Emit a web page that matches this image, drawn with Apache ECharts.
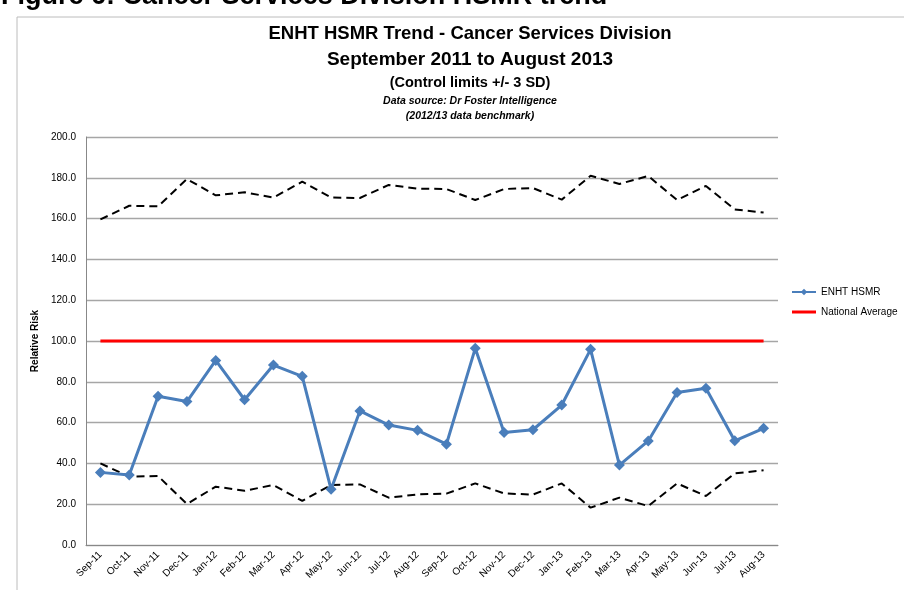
<!DOCTYPE html>
<html>
<head>
<meta charset="utf-8">
<script src="https://cdn.jsdelivr.net/npm/echarts@6/dist/echarts.min.js"></script>
<style>
  html, body { margin: 0; padding: 0; background: #fff; overflow: hidden; }
  #chart { width: 904px; height: 590px; }
</style>
</head>
<body>
<div id="chart"></div>
<script>
// months Sep-11 .. Aug-13
const months = ["Sep-11", "Oct-11", "Nov-11", "Dec-11", "Jan-12", "Feb-12", "Mar-12", "Apr-12",
  "May-12", "Jun-12", "Jul-12", "Aug-12", "Sep-12", "Oct-12", "Nov-12", "Dec-12",
  "Jan-13", "Feb-13", "Mar-13", "Apr-13", "May-13", "Jun-13", "Jul-13", "Aug-13"];

const hsmr = [35.6, 34.3, 72.9, 70.3, 90.5, 71.2, 88.2, 82.7, 27.3, 65.7, 58.8, 56.2,
  49.4, 96.4, 55.2, 56.5, 68.6, 95.9, 39.2, 51.0, 74.8, 76.8, 51.1, 57.2];

const upperLimit = [159.6, 166.3, 166.0, 179.4, 171.4, 172.9, 170.3, 178.1, 170.3, 170.1, 176.5, 174.7,
  174.5, 169.1, 174.5, 175.0, 169.3, 181.0, 177.0, 180.9, 169.1, 176.0, 164.5, 163.0];

const lowerLimit = [40.0, 33.5, 33.8, 20.1, 28.6, 26.6, 29.4, 21.6, 29.4, 29.7, 23.2, 24.8,
  25.2, 30.2, 25.3, 24.7, 30.2, 18.3, 23.2, 19.1, 30.2, 24.0, 35.1, 36.6];

const nationalAverage = months.map(() => 100);

const yTicks = { min: 0, max: 200, step: 20 };

const font = "'Liberation Sans', Arial, sans-serif";

const chart = echarts.init(document.getElementById("chart"), null, { renderer: "canvas" });

const dashed = {
  type: "line",
  symbol: "none",
  silent: true,
  lineStyle: { color: "#000", width: 2, type: [8, 5] },
  z: 2
};

const option = {
  backgroundColor: "#fff",
  animation: false,
  textStyle: { fontFamily: font },
  graphic: [
    {
      type: "rect",
      shape: { x: 17, y: 17, width: 900, height: 600 },
      style: { fill: "none", stroke: "#bcbcbc", lineWidth: 1 },
      z: -1
    },
    {
      type: "text",
      left: 1,
      top: -17,
      style: { text: "Figure 6: Cancer Services Division HSMR trend", font: "bold 27px " + font, fill: "#000" }
    }
  ],
  title: [
    { text: "ENHT HSMR Trend - Cancer Services Division", left: 465, top: 19, textAlign: "center",
      textStyle: { fontSize: 18.5, fontWeight: "bold", color: "#000", fontFamily: font } },
    { text: "September 2011 to August 2013", left: 465, top: 45, textAlign: "center",
      textStyle: { fontSize: 19, fontWeight: "bold", color: "#000", fontFamily: font } },
    { text: "(Control limits +/- 3 SD)", left: 465, top: 70, textAlign: "center",
      textStyle: { fontSize: 14.5, fontWeight: "bold", color: "#000", fontFamily: font } },
    { text: "Data source: Dr Foster Intelligence", left: 465, top: 91, textAlign: "center",
      textStyle: { fontSize: 10.5, fontWeight: "bold", fontStyle: "italic", color: "#000", fontFamily: font } },
    { text: "(2012/13 data benchmark)", left: 465, top: 106, textAlign: "center",
      textStyle: { fontSize: 10.5, fontWeight: "bold", fontStyle: "italic", color: "#000", fontFamily: font } }
  ],
  legend: {
    orient: "vertical",
    left: 786,
    top: 282,
    itemWidth: 24,
    itemHeight: 8,
    itemGap: 10,
    textStyle: { fontSize: 10, color: "#000", fontFamily: font },
    data: [
      { name: "ENHT HSMR" },
      { name: "National Average", icon: "path://M0,0H24V3H0Z" }
    ]
  },
  grid: { left: 86, right: 126, top: 137, bottom: 45, containLabel: false },
  xAxis: {
    type: "category",
    data: months,
    boundaryGap: true,
    axisLine: { lineStyle: { color: "#888", width: 1 } },
    axisTick: { show: false },
    axisLabel: { rotate: 45, interval: 0, fontSize: 10, color: "#000", margin: 8, fontFamily: font }
  },
  yAxis: {
    type: "value",
    name: "Relative Risk",
    nameLocation: "middle",
    nameGap: 39,
    nameRotate: 90,
    nameTextStyle: { fontSize: 10, fontWeight: "bold", color: "#000", fontFamily: font },
    min: yTicks.min,
    max: yTicks.max,
    interval: yTicks.step,
    axisLine: { show: true, lineStyle: { color: "#888", width: 1 } },
    axisTick: { show: false },
    splitLine: { lineStyle: { color: "#a6a6a6", width: 1.3 } },
    axisLabel: { fontSize: 10, color: "#000", margin: 10, fontFamily: font,
      formatter: v => v.toFixed(1) }
  },
  series: [
    Object.assign({ name: "Upper limit", data: upperLimit }, dashed),
    Object.assign({ name: "Lower limit", data: lowerLimit }, dashed),
    {
      name: "National Average",
      type: "line",
      data: nationalAverage,
      symbol: "none",
      lineStyle: { color: "#ff0000", width: 3 },
      itemStyle: { color: "#ff0000" },
      z: 3
    },
    {
      name: "ENHT HSMR",
      type: "line",
      data: hsmr,
      symbol: "diamond",
      symbolSize: 11,
      lineStyle: { color: "#4a7ebb", width: 3 },
      itemStyle: { color: "#4a7ebb" },
      z: 4
    }
  ]
};

chart.setOption(option);
</script>
</body>
</html>
